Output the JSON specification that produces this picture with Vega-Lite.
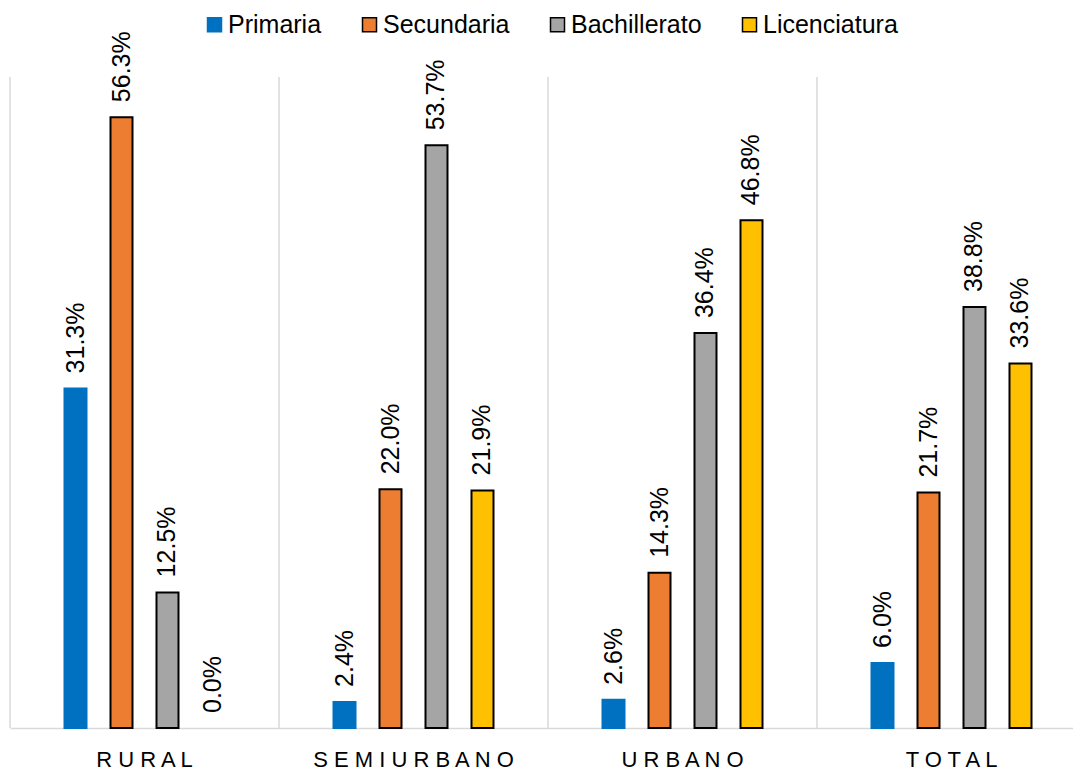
{
  "$schema": "https://vega.github.io/schema/vega-lite/v6.json",
  "width": 1063,
  "height": 651,
  "autosize": {"type": "none"},
  "padding": {"left": 10, "top": 77, "right": 0, "bottom": 44},
  "background": "white",
  "config": {
    "view": {"stroke": null},
    "font": "Liberation Sans"
  },
  "data": {
    "values": [
      {"area": "RURAL", "series": "Primaria", "value": 0.313},
      {"area": "RURAL", "series": "Secundaria", "value": 0.563},
      {"area": "RURAL", "series": "Bachillerato", "value": 0.125},
      {"area": "RURAL", "series": "Licenciatura", "value": 0.0},
      {"area": "SEMIURBANO", "series": "Primaria", "value": 0.024},
      {"area": "SEMIURBANO", "series": "Secundaria", "value": 0.22},
      {"area": "SEMIURBANO", "series": "Bachillerato", "value": 0.537},
      {"area": "SEMIURBANO", "series": "Licenciatura", "value": 0.219},
      {"area": "URBANO", "series": "Primaria", "value": 0.026},
      {"area": "URBANO", "series": "Secundaria", "value": 0.143},
      {"area": "URBANO", "series": "Bachillerato", "value": 0.364},
      {"area": "URBANO", "series": "Licenciatura", "value": 0.468},
      {"area": "TOTAL", "series": "Primaria", "value": 0.06},
      {"area": "TOTAL", "series": "Secundaria", "value": 0.217},
      {"area": "TOTAL", "series": "Bachillerato", "value": 0.388},
      {"area": "TOTAL", "series": "Licenciatura", "value": 0.336}
    ]
  },
  "layer": [
    {
      "transform": [{"filter": "datum.series === 'Primaria'"}],
      "mark": {"type": "rule", "color": "#d9d9d9", "strokeWidth": 1.5},
      "encoding": {
        "x": {
          "field": "area", "type": "nominal", "bandPosition": 0,
          "sort": ["RURAL", "SEMIURBANO", "URBANO", "TOTAL"],
          "scale": {"range": [0, 1076], "paddingInner": 0, "paddingOuter": 0},
          "axis": {
            "title": null, "ticks": false, "grid": false,
            "domainColor": "#d9d9d9", "domainWidth": 1.5,
            "labelAngle": 0, "labelFontSize": 22, "labelColor": "#000",
            "labelFont": "Liberation Sans", "labelPadding": 21, "labelLimit": 400,
            "labelExpr": "join(split(datum.label, ''), ' ')"
          }
        }
      }
    },
    {
      "mark": {"type": "bar", "strokeWidth": 2, "width": 22},
      "encoding": {
        "x": {
          "field": "area", "type": "nominal",
          "sort": ["RURAL", "SEMIURBANO", "URBANO", "TOTAL"],
          "scale": {"range": [0, 1076], "paddingInner": 0, "paddingOuter": 0},
          "axis": {
            "title": null, "ticks": false, "grid": false,
            "domainColor": "#d9d9d9", "domainWidth": 1.5,
            "labelAngle": 0, "labelFontSize": 22, "labelColor": "#000",
            "labelFont": "Liberation Sans", "labelPadding": 21, "labelLimit": 400,
            "labelExpr": "join(split(datum.label, ''), ' ')"
          }
        },
        "xOffset": {
          "field": "series", "type": "nominal",
          "sort": ["Primaria", "Secundaria", "Bachillerato", "Licenciatura"],
          "scale": {"paddingInner": 0.15, "paddingOuter": 0.999}
        },
        "y": {
          "field": "value", "type": "quantitative",
          "scale": {"domain": [0, 0.6], "nice": false, "zero": true},
          "axis": null
        },
        "color": {
          "field": "series", "type": "nominal",
          "sort": ["Primaria", "Secundaria", "Bachillerato", "Licenciatura"],
          "scale": {
            "domain": ["Primaria", "Secundaria", "Bachillerato", "Licenciatura"],
            "range": ["#0070C0", "#ED7D31", "#A5A5A5", "#FFC000"]
          },
          "legend": {
            "orient": "none", "legendX": 192, "legendY": -65,
            "direction": "horizontal", "title": null,
            "symbolType": "square", "symbolSize": 196, "symbolStrokeWidth": 1.5,
            "symbolOpacity": 1,
            "labelFontSize": 25, "labelFont": "Liberation Sans", "labelColor": "#000",
            "labelOffset": 1, "columnPadding": 35, "padding": 0
          }
        },
        "stroke": {
          "condition": {"test": "datum.value === 0", "value": "transparent"},
          "field": "series", "type": "nominal",
          "sort": ["Primaria", "Secundaria", "Bachillerato", "Licenciatura"],
          "scale": {
            "domain": ["Primaria", "Secundaria", "Bachillerato", "Licenciatura"],
            "range": ["#0070C0", "#000000", "#000000", "#000000"]
          },
          "legend": {
            "orient": "none", "legendX": 192, "legendY": -65,
            "direction": "horizontal", "title": null,
            "symbolType": "square", "symbolSize": 196, "symbolStrokeWidth": 1.5,
            "labelFontSize": 25, "labelFont": "Liberation Sans", "labelColor": "#000",
            "labelOffset": 1, "columnPadding": 35, "padding": 0
          }
        }
      }
    },
    {
      "mark": {"type": "text", "angle": 270, "align": "left", "baseline": "middle", "dx": 15, "fontSize": 25, "font": "Liberation Sans", "color": "#000"},
      "encoding": {
        "x": {
          "field": "area", "type": "nominal",
          "sort": ["RURAL", "SEMIURBANO", "URBANO", "TOTAL"],
          "scale": {"range": [0, 1076], "paddingInner": 0, "paddingOuter": 0},
          "axis": {
            "title": null, "ticks": false, "grid": false,
            "domainColor": "#d9d9d9", "domainWidth": 1.5,
            "labelAngle": 0, "labelFontSize": 22, "labelColor": "#000",
            "labelFont": "Liberation Sans", "labelPadding": 21, "labelLimit": 400,
            "labelExpr": "join(split(datum.label, ''), ' ')"
          }
        },
        "xOffset": {
          "field": "series", "type": "nominal",
          "sort": ["Primaria", "Secundaria", "Bachillerato", "Licenciatura"],
          "scale": {"paddingInner": 0.15, "paddingOuter": 0.999}
        },
        "y": {"field": "value", "type": "quantitative"},
        "text": {"field": "value", "type": "quantitative", "format": ".1%"}
      }
    }
  ]
}
